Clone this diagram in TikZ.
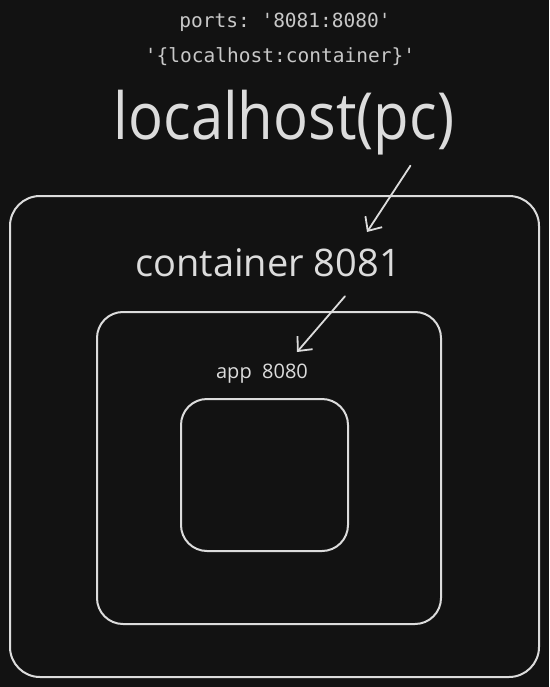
\documentclass[tikz,border=0pt]{standalone}
\usepackage{fontspec}
\setmainfont{Open Sans}
\setmonofont{DejaVu Sans Mono}
\usepackage{tikz}
\usetikzlibrary{arrows.meta,calc}
\definecolor{bgdark}{HTML}{121212}
\definecolor{chalk}{HTML}{DCDCDC}
\definecolor{monogray}{HTML}{C8C8C8}
\tikzstyle{frame}=[draw=chalk, line width=2pt]
\tikzstyle{hand}=[text=chalk, inner sep=0pt]
\tikzstyle{code}=[text=monogray, inner sep=0pt, font=\ttfamily\fontsize{19.5}{19.5}\selectfont]
\tikzstyle{pointer}=[draw=chalk, line width=1.8pt, line cap=round, -{Straight Barb[length=11pt,width=20pt,line width=1.8pt]}]
\newcommand{\roundBox}[3]{
	\draw[frame, rounded corners=#3] #1 rectangle #2;
}

\begin{document}
\begin{tikzpicture}[x=1pt,y=-1pt]
	\fill[bgdark] (0,0) rectangle (549,687);
	\useasboundingbox (0,0) rectangle (549,687);
	\node[code] (ports) at (285,22) {ports: '8081:8080'};
	\node[code] (mapping) at (280,57) {'\{localhost:container\}'};
	\node[hand, font=\fontsize{58}{58}\selectfont] (pc) at (284,123) {\scalebox{1}[1.12]{localhost(pc)}};
	\node[hand, font=\fontsize{38}{38}\selectfont] (ctr) at (268,263) {container 8081};
	\node[hand, font=\fontsize{20}{20}\selectfont] (app) at (262,374) {app\ \ 8080};
	\roundBox{(10,196)}{(539,677)}{30pt}
	\roundBox{(97,312)}{(441,624)}{26pt}
	\roundBox{(181,399)}{(348,551)}{26pt}
	\coordinate (pcend) at (367,232);
	\coordinate (ctrend) at (297,352);
	\draw[pointer] ($(pc.south east)+(-44,10)$) -- (pcend);
	\draw[pointer] ($(ctr.south east)+(-56,19)$) -- (ctrend);
\end{tikzpicture}
\end{document}
